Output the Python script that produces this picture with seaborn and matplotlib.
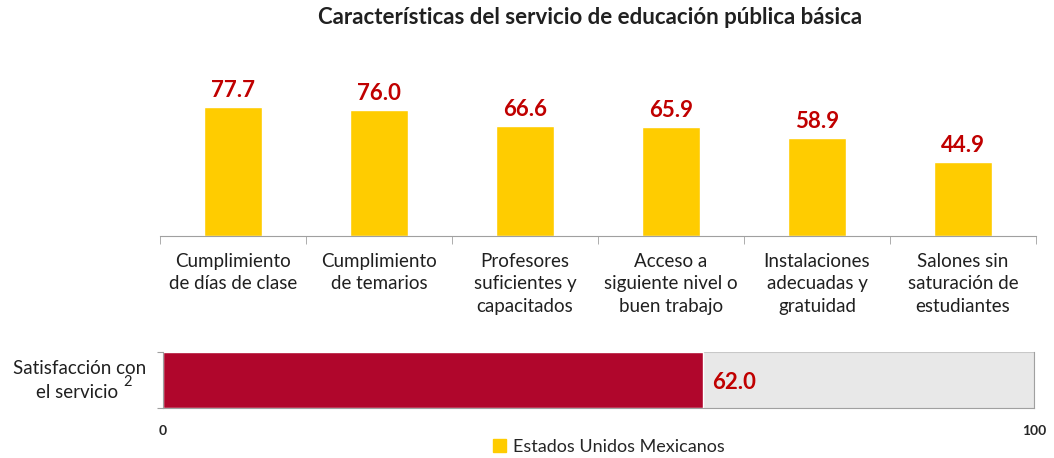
import pandas as pd
import seaborn as sns
import matplotlib.pyplot as plt
from matplotlib.patches import Patch

sns.set_style('white')
plt.rcParams['font.family'] = ['Lato', 'DejaVu Sans']

categorias = ['Cumplimiento\nde días de clase', 'Cumplimiento\nde temarios',
              'Profesores\nsuficientes y\ncapacitados', 'Acceso a\nsiguiente nivel o\nbuen trabajo',
              'Instalaciones\nadecuadas y\ngratuidad', 'Salones sin\nsaturación de\nestudiantes']
valores = [77.7, 76.0, 66.6, 65.9, 58.9, 44.9]
satisfaccion = 62.0
escala_max = 100

amarillo = '#FFCC00'
rojo_txt = '#C00000'
carmin = '#B0062C'

df = pd.DataFrame({'cat': categorias, 'val': valores})

fig = plt.figure(figsize=(10.54, 4.58), dpi=100)
ax1 = fig.add_axes([0.1518, 0.4847, 0.8311, 0.384])
ax2 = fig.add_axes([0.1547, 0.109, 0.8264, 0.1223])

sns.barplot(data=df, x='cat', y='val', color=amarillo, width=0.4, saturation=1, ax=ax1)
ax1.set_ylim(0, 106)
ax1.set_xlim(-0.5, len(categorias) - 0.5)
for i, v in enumerate(valores):
    ax1.text(i, v + 3.5, f'{v:.1f}', ha='center', va='bottom', color=rojo_txt,
             fontsize=16, fontweight='bold')
ax1.set_xlabel('')
ax1.set_ylabel('')
ax1.set_yticks([])
for s in ['top', 'right', 'left']:
    ax1.spines[s].set_visible(False)
ax1.spines['bottom'].set_color('#A0A0A0')
ax1.set_xticks([i - 0.5 for i in range(len(categorias) + 1)], minor=True)
ax1.tick_params(axis='x', which='minor', length=6, color='#A0A0A0', direction='out', bottom=True)
ax1.tick_params(axis='x', which='major', length=0, pad=12, labelsize=13.5, colors='#202020')
ax1.set_xticklabels(categorias, linespacing=1.4)
fig.text(590 / 1054, 1 - 18 / 458, 'Características del servicio de educación pública básica',
         ha='center', va='center', fontsize=16, fontweight='bold', color='#202020')

lab = ['Satisfacción']
sns.barplot(x=[escala_max], y=lab, orient='h', color='#E8E8E8', width=1, saturation=1,
            edgecolor='#C8C8C8', linewidth=0.8, ax=ax2)
sns.barplot(x=[satisfaccion], y=lab, orient='h', color=carmin, width=1, saturation=1, ax=ax2)
ax2.set_xlim(0, escala_max)
ax2.set_ylim(0.5, -0.5)
ax2.text(satisfaccion + 1, 0.05, f'{satisfaccion:.1f}', ha='left', va='center',
         color=rojo_txt, fontsize=16, fontweight='bold')
ax2.set_xticks([0, escala_max])
ax2.set_xticklabels(['0', '100'], fontweight='bold', fontsize=10)
ax2.tick_params(axis='x', length=0, pad=12)
ax2.set_yticks([-0.5, 0.5])
ax2.set_yticklabels([])
ax2.tick_params(axis='y', length=4, color='#A0A0A0', left=True)
ax2.set_xlabel('')
ax2.set_ylabel('')
ax2.spines['top'].set_visible(False)
for s in ['left', 'bottom', 'right']:
    ax2.spines[s].set_color('#A0A0A0')
fig.text(80 / 1054, 1 - 368 / 458, 'Satisfacción con', ha='center', va='center',
         fontsize=13.5, color='#202020')
fig.text(118 / 1054, 1 - 392 / 458, 'el servicio', ha='right', va='center',
         fontsize=13.5, color='#202020')
fig.text(123 / 1054, 1 - 382 / 458, '2', ha='left', va='center',
         fontsize=10.5, color='#202020')

fig.legend(handles=[Patch(color=amarillo, label='Estados Unidos Mexicanos')],
           loc='center', bbox_to_anchor=(0.578, 1 - 447 / 458), frameon=False,
           fontsize=13, handlelength=0.7, handleheight=0.7, handletextpad=0.4)

plt.savefig('out.png', dpi=100)
